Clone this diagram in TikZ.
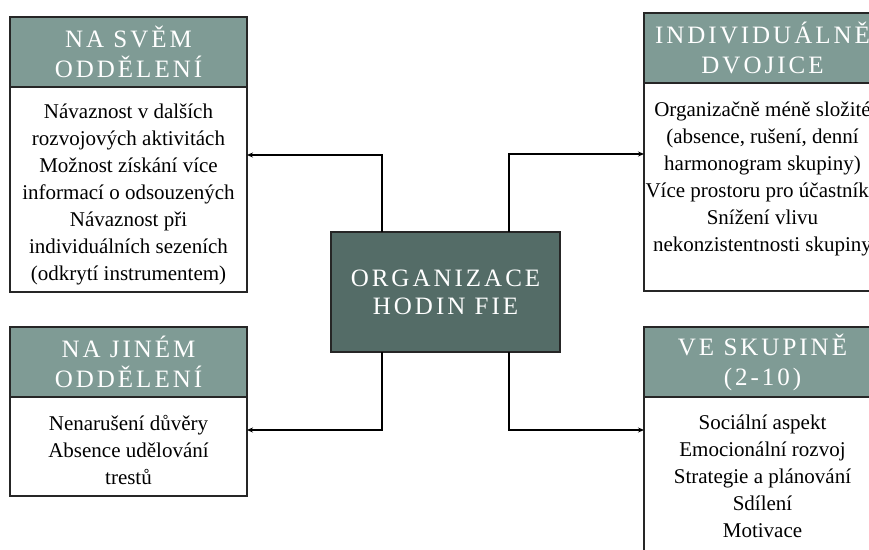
\documentclass[tikz,border=0pt]{standalone}
\usepackage{fontspec}
\setmainfont{Liberation Serif}
\newfontfamily\headfont[LetterSpace=12]{Liberation Serif}
\usepackage{xcolor}
\usepackage{tikz}
\usetikzlibrary{positioning, arrows.meta}

\definecolor{headgreen}{HTML}{7F9B95}
\definecolor{coregreen}{HTML}{546C67}

\begin{document}
\begin{tikzpicture}[x=1pt, y=-1pt,
      head/.style={rectangle, draw=black!85, fill=headgreen, line width=1.2pt, outer sep=0pt, inner sep=0pt, minimum width=237pt, minimum height=70pt, text=white, align=center, font=\headfont\fontsize{25}{30}\selectfont, anchor=north west},
      panel/.style={rectangle, draw=black!85, fill=white, line width=1.2pt, outer sep=0pt, inner sep=0pt, minimum width=237pt, anchor=north},
      items/.style={inner sep=0pt, align=center, font=\fontsize{21}{27}\selectfont, anchor=north},
      core/.style={rectangle, draw=black!85, fill=coregreen, line width=1.2pt, outer sep=0pt, minimum width=229pt, minimum height=120pt, text=white, align=center, font=\headfont\fontsize{25}{28}\selectfont},
      arrow/.style={-{Stealth[length=6pt,width=5pt]}, line width=1.2pt}
    ]
      \useasboundingbox (0,0) rectangle (869,549);
      \clip (0,0) rectangle (869,549);

      % Headers
      \node[head] (tlhead) at (10,17) {NA SVĚM\\ODDĚLENÍ};
      \node[head] (trhead) at (644,13) {INDIVIDUÁLNĚ\\DVOJICE};
      \node[head] (blhead) at (10,327) {NA JINÉM\\ODDĚLENÍ};
      \node[head] (brhead) at (644,327) {VE SKUPINĚ\\(2-10)};

      % Panels
      \node[panel, minimum height=205pt, below=0pt of tlhead] (tlbody) {};
      \node[panel, minimum height=208pt, below=0pt of trhead] (trbody) {};
      \node[panel, minimum height=99pt, below=0pt of blhead] (blbody) {};
      \node[panel, minimum height=204pt, below=0pt of brhead] (brbody) {};

      % Items
      \node[items, below=12pt of tlhead.south] (tlitems) {\strut Návaznost v dalších\\
        rozvojových aktivitách\\
        Možnost získání více\\
        informací o odsouzených\\
        Návaznost při\\
        individuálních sezeních\\
        (odkrytí instrumentem)};
      \node[items, below=14pt of trhead.south] (tritems) {\strut Organizačně méně složité\\
        (absence, rušení, denní\\
        harmonogram skupiny)\\
        Více prostoru pro účastníky\\
        Snížení vlivu\\
        nekonzistentnosti skupiny};
      \node[items, below=14pt of blhead.south] (blitems) {\strut Nenarušení důvěry\\
        Absence udělování\\
        trestů};
      \node[items, below=13pt of brhead.south] (britems) {\strut Sociální aspekt\\
        Emocionální rozvoj\\
        Strategie a plánování\\
        Sdílení\\
        Motivace};

      % Centre
      \node[core] (org) at (445.5,292) {ORGANIZACE\\HODIN FIE};

      % Arrows
      \draw[arrow] ([xshift=-63.5pt]org.north) |- ([yshift=-68pt]tlbody.north east);
      \draw[arrow] ([xshift=63.5pt]org.north) |- ([yshift=-71pt]trbody.north west);
      \draw[arrow] ([xshift=-63.5pt]org.south) |- ([yshift=-33pt]blbody.north east);
      \draw[arrow] ([xshift=63.5pt]org.south) |- ([yshift=-33pt]brbody.north west);
    \end{tikzpicture}
\end{document}
